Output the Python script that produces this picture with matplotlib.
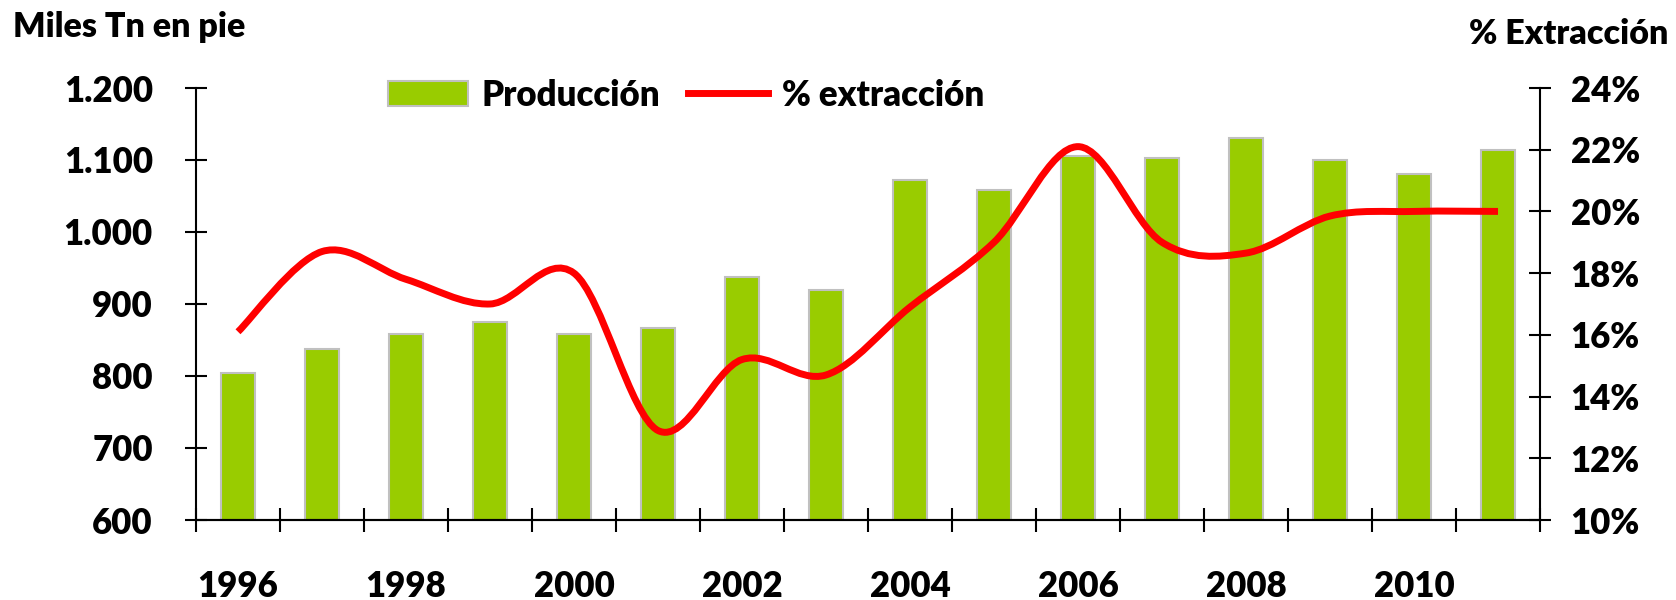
import matplotlib
matplotlib.use("Agg")
import matplotlib.pyplot as plt
import numpy as np
from matplotlib.path import Path
from matplotlib.patches import PathPatch, Patch
from matplotlib.lines import Line2D
from matplotlib.ticker import FuncFormatter

plt.rcParams['font.family'] = ['Lato', 'DejaVu Sans']
W = 'heavy'

# data
years = list(range(1996, 2012))
produccion = [804, 838, 858, 875, 858, 866, 938, 920, 1072, 1058, 1106, 1103, 1131, 1100, 1080, 1114]
extraccion = [16.1, 18.7, 17.8, 17.0, 18.0, 12.9, 15.2, 14.7, 16.9, 19.0, 22.1, 19.0, 18.65, 19.85, 20.0, 20.0]
year_labels = [str(y) for y in years[::2]]

GREEN = '#99CC00'
RED = '#FF0000'

fig = plt.figure(figsize=(16.76, 6), dpi=100)
ax = fig.add_axes([196 / 1676, 80 / 600, (1540 - 196) / 1676, 432 / 600])
ax2 = ax.twinx()

x = np.arange(len(years))
ax.bar(x, produccion, width=0.4, color=GREEN, edgecolor='#C0C0C0', linewidth=1.5, zorder=2)
ax.set_xlim(-0.5, len(years) - 0.5)
ax.set_ylim(600, 1200)
ax.set_yticks(np.arange(600, 1201, 100))
ax.yaxis.set_major_formatter(FuncFormatter(lambda v, p: f"{int(v):,}".replace(',', '.')))

# smoothed line (Catmull-Rom style bezier, like Excel's smoothed line)
pts = np.column_stack([x, extraccion]).astype(float)
ext = np.vstack([pts[0], pts, pts[-1]])
verts = [tuple(pts[0])]
codes = [Path.MOVETO]
for i in range(len(pts) - 1):
    p0, p1, p2, p3 = ext[i], ext[i + 1], ext[i + 2], ext[i + 3]
    c1 = p1 + (p2 - p0) / 6
    c2 = p2 - (p3 - p1) / 6
    verts += [tuple(c1), tuple(c2), tuple(p2)]
    codes += [Path.CURVE4] * 3
ax2.add_patch(PathPatch(Path(verts, codes), facecolor='none', edgecolor=RED,
                        lw=5, capstyle='butt', zorder=3))
ax2.set_ylim(10, 24)
ax2.set_yticks(np.arange(10, 25, 2))
ax2.yaxis.set_major_formatter(FuncFormatter(lambda v, p: f"{int(v)}%"))

# x ticks at category edges, labels at every other year
ax.set_xticks(np.arange(-0.5, len(years), 1))
ax.set_xticklabels([])
ax.set_xticks(x[::2], minor=True)
ax.set_xticklabels(year_labels, minor=True)
ax.tick_params(axis='x', which='major', direction='inout', length=17, width=1.5)
ax.tick_params(axis='x', which='minor', length=0, pad=36, labelsize=25)
ax.tick_params(axis='y', direction='inout', length=16, width=1.5, pad=23, labelsize=25)
ax2.tick_params(axis='y', direction='inout', length=16, width=1.5, pad=14, labelsize=25)

for a in (ax, ax2):
    a.spines['top'].set_visible(False)
    for s in ('left', 'right', 'bottom'):
        a.spines[s].set_linewidth(1.5)
ax2.spines['left'].set_visible(False)
ax.spines['right'].set_visible(False)

for lbl in ax.get_xticklabels(minor=True) + ax.get_yticklabels() + ax2.get_yticklabels():
    lbl.set_fontweight(W)

fig.text(13 / 1676, 1 - 37 / 600, 'Miles Tn en pie', fontsize=24.5, fontweight=W, va='baseline')
fig.text(1668 / 1676, 1 - 44 / 600, '% Extracción', fontsize=24.5, fontweight=W, va='baseline', ha='right')

handles = [Patch(facecolor=GREEN, edgecolor='#C0C0C0', linewidth=1.5),
           Line2D([], [], color=RED, lw=5)]
fig.legend(handles, ['Producción', '% extracción'], loc='center',
           bbox_to_anchor=(686 / 1676, 1 - 95 / 600), ncol=2, frameon=False,
           prop={'size': 25, 'weight': W}, handlelength=2.3, handleheight=0.75,
           handletextpad=0.4, columnspacing=0.8)

fig.savefig('out.png', dpi=100)
